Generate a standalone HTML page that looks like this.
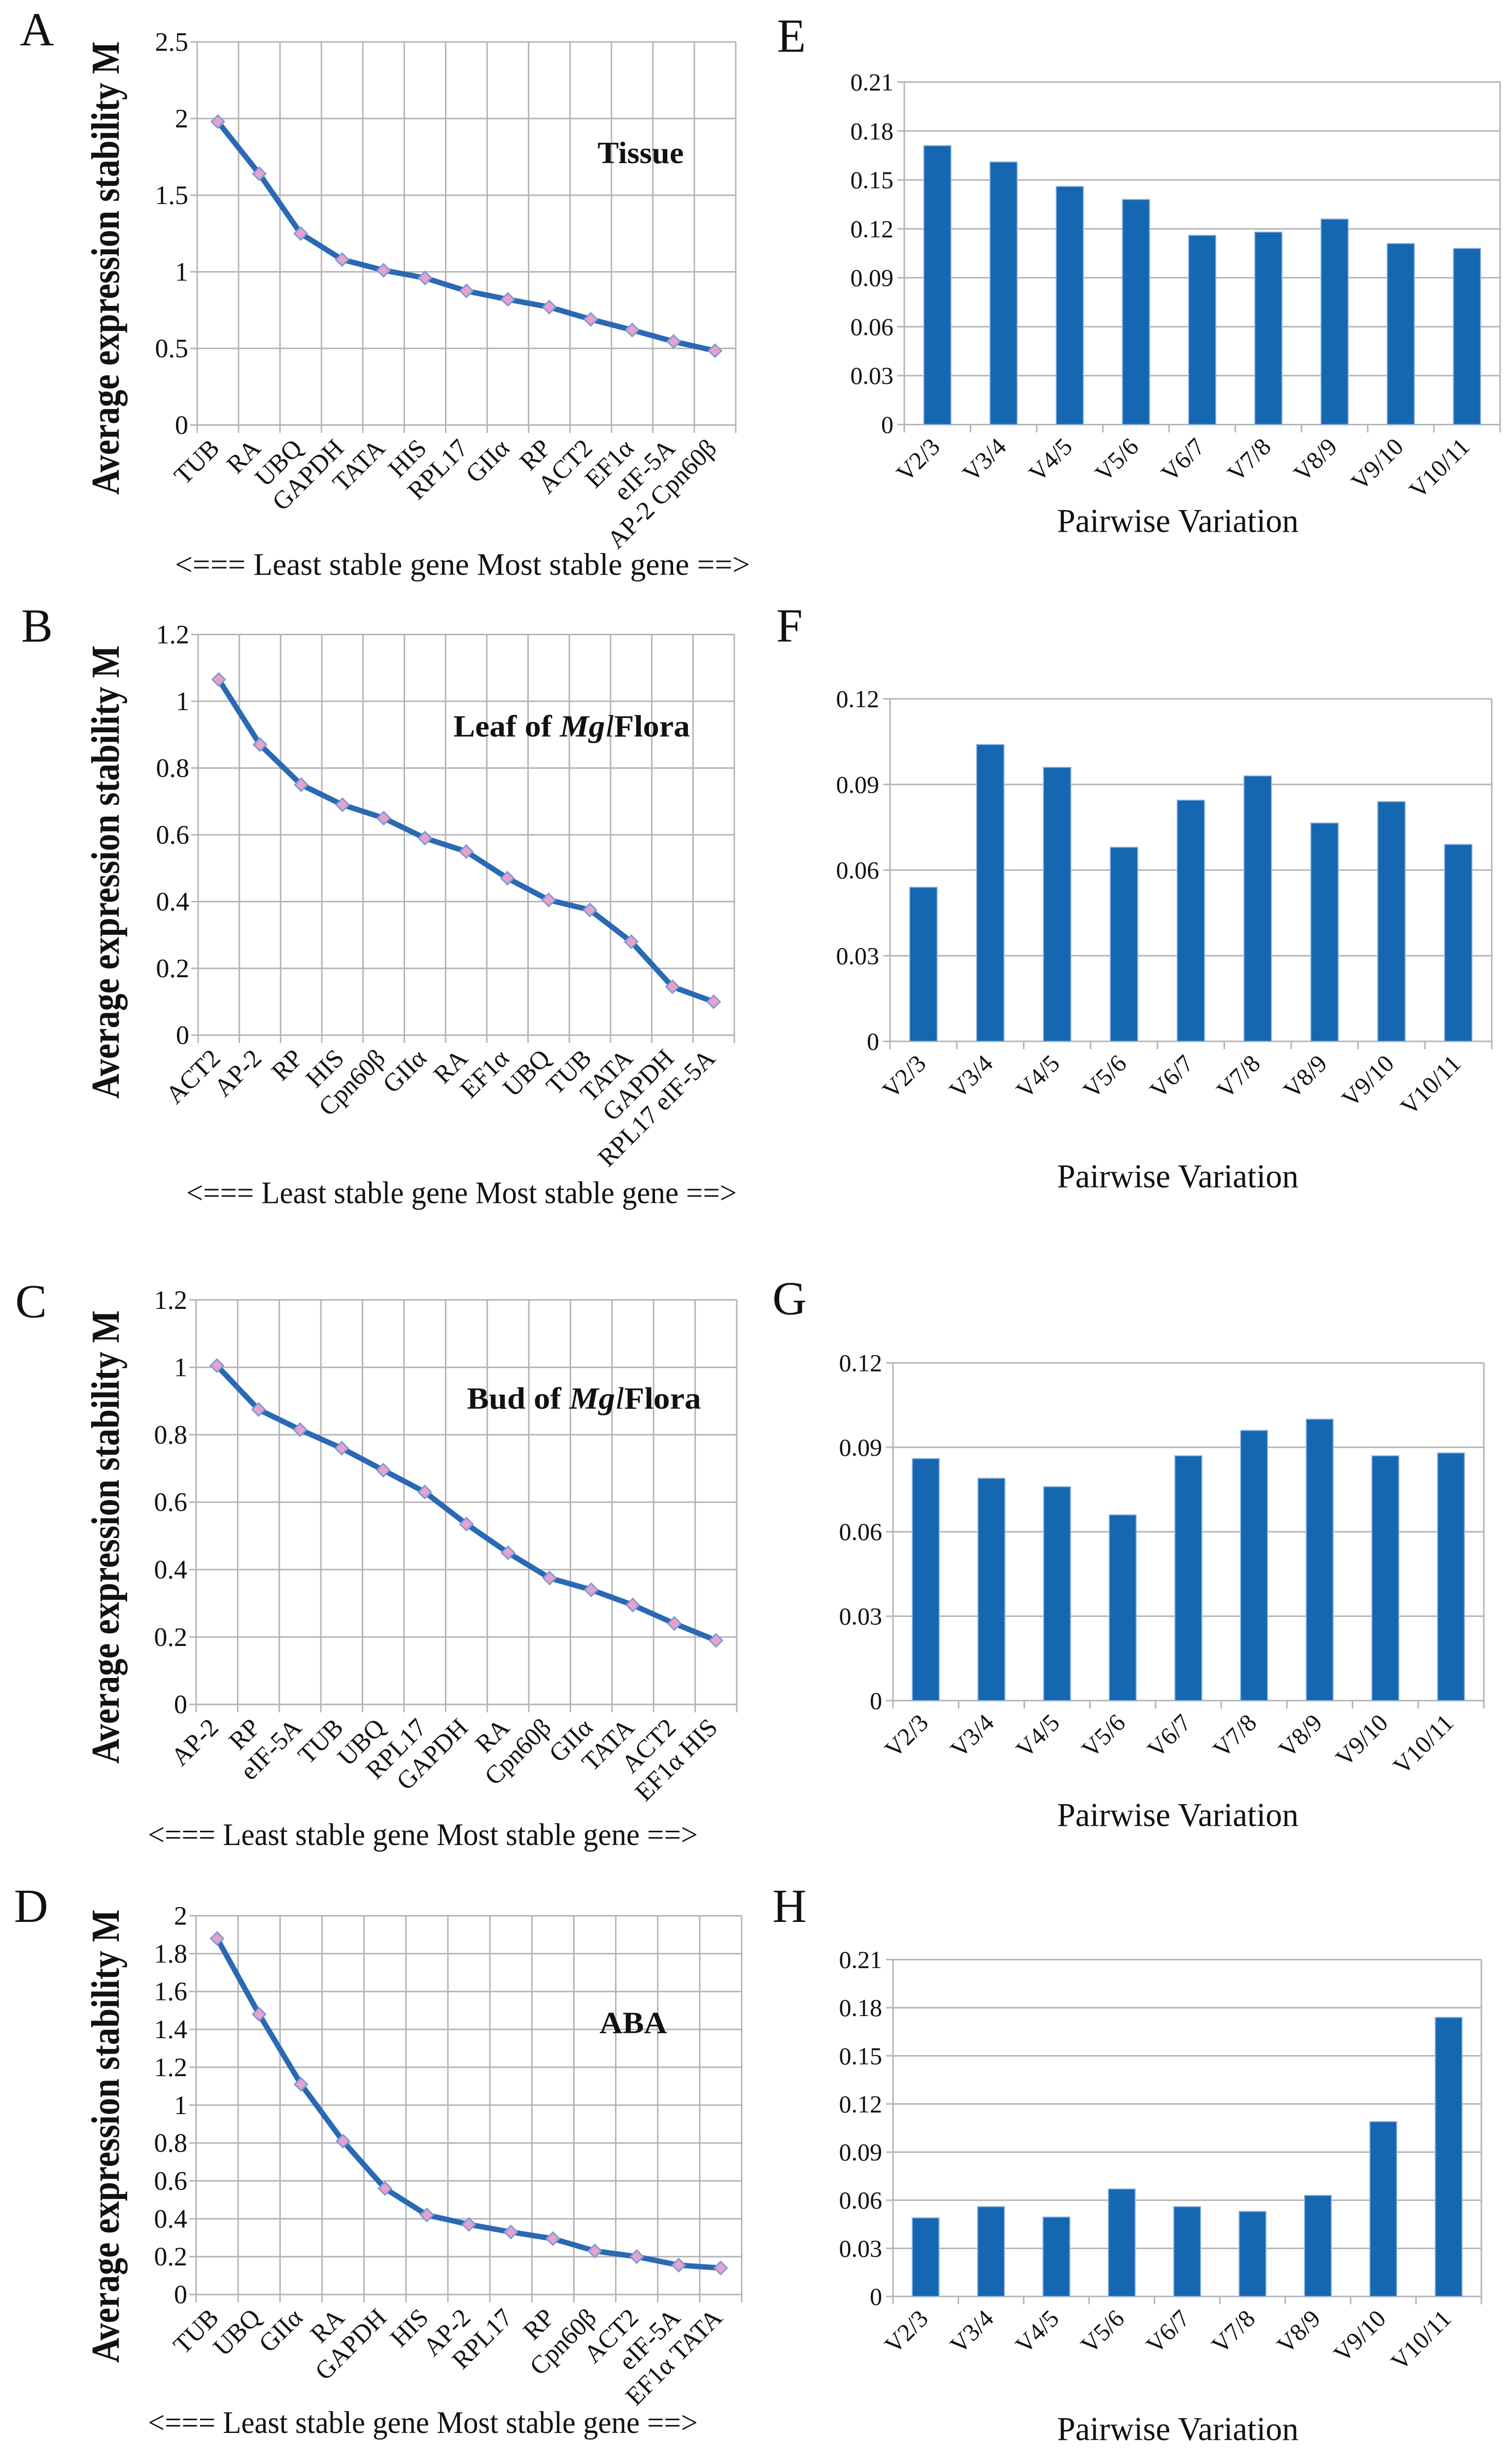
<!DOCTYPE html>
<html><head><meta charset="utf-8"><style>
html,body{margin:0;padding:0;background:#fff;overflow:hidden;}
svg{display:block;}
text{font-family:"Liberation Serif",serif;fill:#111;}
</style></head><body>
<svg id="fig" width="3056" height="5136" viewBox="0 0 3056 5136" xmlns="http://www.w3.org/2000/svg"></svg>
<script>
// ---- Line chart data (geNorm average expression stability M) ----
const catsA = ["TUB","RA","UBQ","GAPDH","TATA","HIS","RPL17","GIIα","RP","ACT2","EF1α","eIF-5A","AP-2 Cpn60β"];
const valsA = [1.98,1.64,1.25,1.08,1.01,0.96,0.875,0.82,0.77,0.69,0.62,0.545,0.485];
const ticksA = ["0","0.5","1","1.5","2","2.5"];
const catsB = ["ACT2","AP-2","RP","HIS","Cpn60β","GIIα","RA","EF1α","UBQ","TUB","TATA","GAPDH","RPL17 eIF-5A"];
const valsB = [1.065,0.87,0.75,0.69,0.65,0.59,0.55,0.47,0.405,0.375,0.28,0.145,0.10];
const ticksB = ["0","0.2","0.4","0.6","0.8","1","1.2"];
const catsC = ["AP-2","RP","eIF-5A","TUB","UBQ","RPL17","GAPDH","RA","Cpn60β","GIIα","TATA","ACT2","EF1α HIS"];
const valsC = [1.005,0.875,0.815,0.76,0.695,0.63,0.535,0.45,0.375,0.34,0.295,0.24,0.19];
const ticksC = ["0","0.2","0.4","0.6","0.8","1","1.2"];
const catsD = ["TUB","UBQ","GIIα","RA","GAPDH","HIS","AP-2","RPL17","RP","Cpn60β","ACT2","eIF-5A","EF1α TATA"];
const valsD = [1.88,1.48,1.11,0.81,0.56,0.42,0.37,0.33,0.295,0.23,0.20,0.155,0.14];
const ticksD = ["0","0.2","0.4","0.6","0.8","1","1.2","1.4","1.6","1.8","2"];
// ---- Bar chart data (pairwise variation) ----
const pairCats = ["V2/3","V3/4","V4/5","V5/6","V6/7","V7/8","V8/9","V9/10","V10/11"];
const valsE = [0.171,0.161,0.146,0.138,0.116,0.118,0.126,0.111,0.108];
const valsF = [0.054,0.104,0.096,0.068,0.0845,0.093,0.0765,0.084,0.069];
const valsG = [0.086,0.079,0.076,0.066,0.087,0.096,0.100,0.087,0.088];
const valsH = [0.049,0.056,0.0495,0.067,0.056,0.053,0.063,0.109,0.174];
const ticksE = ["0","0.03","0.06","0.09","0.12","0.15","0.18","0.21"];
const ticksF = ["0","0.03","0.06","0.09","0.12"];
const ticksG = ["0","0.03","0.06","0.09","0.12"];
const ticksH = ["0","0.03","0.06","0.09","0.12","0.15","0.18","0.21"];

const NS = "http://www.w3.org/2000/svg";
const svg = document.getElementById('fig');
const YF = 0.968;
function mk(tag, attrs, parent, txt){
  const e = document.createElementNS(NS, tag);
  for (const k in attrs) e.setAttribute(k, attrs[k]);
  if (txt !== undefined) e.textContent = txt;
  (parent || svg).appendChild(e);
  return e;
}
const GRID = "#b4b4b4";

function lineChart(id, cats, vals, ticks, box, letter, annot, annotItalic, titleCY, caption){
  box = {x0: box.x0, x1: box.x1, y0: box.y0 * YF, y1: box.y1 * YF};
  annot[1] *= YF; titleCY *= YF; caption[1] *= YF;
  const g = mk('g', {});
  
  
  const max = parseFloat(ticks[ticks.length-1]);
  const yS = v => box.y1 - (v / max) * (box.y1 - box.y0);
  const n = cats.length, bw = (box.x1 - box.x0) / n;
  const xS = i => box.x0 + bw * (i + 0.5);
  ticks.forEach(t => {
    const y = yS(parseFloat(t));
    const l = mk('line', {x1: box.x0 - 14, x2: box.x1, y1: y, y2: y, stroke: GRID, 'stroke-width': 3}, g);
    
    
    const tx = mk('text', {x: box.x0 - 18, y: y + 18, 'text-anchor': 'end', 'font-size': 54}, g, t);
    
    
  });
  for (let i = 0; i <= n; i++) {
    const x = box.x0 + bw * i;
    const l = mk('line', {x1: x, x2: x, y1: box.y0, y2: box.y1 + 16, stroke: GRID, 'stroke-width': 3}, g);
    
    
  }
  cats.forEach((c, i) => {
    const x = xS(i) + 6, y = box.y1 + 50;
    const t = mk('text', {x: x, y: y, 'text-anchor': 'end', 'font-size': 52, transform: `rotate(-45 ${x} ${y})`}, g, c);
    
    
  });
  const pts = vals.map((v, i) => xS(i) + ',' + yS(v)).join(' ');
  const pl = mk('polyline', {points: pts, fill: 'none', stroke: '#2a69b3', 'stroke-width': 11, 'stroke-linejoin': 'round'}, g);
  
  
  vals.forEach((v, i) => {
    const x = xS(i), y = yS(v), s = 13;
    const p = mk('polygon', {points: `${x},${y-s} ${x+s},${y} ${x},${y+s} ${x-s},${y}`, fill: '#e6a2cc', stroke: '#7f9ad6', 'stroke-width': 3}, g);
    
    
  });
  const L = mk('text', {x: letter[0], y: letter[1], 'font-size': 96, 'text-anchor': 'middle'}, g, letter[2]);
  
  
  const A = mk('text', {x: annot[0], y: annot[1], 'font-size': 62, 'font-weight': 'bold', 'text-anchor': 'middle', textLength: annot[3], lengthAdjust: 'spacingAndGlyphs'}, g);
  
  
  if (annotItalic) {
    mk('tspan', {}, A, annot[2]);
    mk('tspan', {'font-style': 'italic'}, A, 'Mg');
    mk('tspan', {'font-style': 'italic', 'font-weight': 'normal'}, A, 'l');
    mk('tspan', {}, A, 'Flora');
  } else { A.textContent = annot[2]; }
  const yt = mk('text', {x: 241, y: titleCY, 'font-size': 80, 'font-weight': 'bold', 'text-anchor': 'middle', transform: `rotate(-90 241 ${titleCY})`, textLength: 920, lengthAdjust: 'spacingAndGlyphs'}, g, 'Average expression  stability  M');
  
  
  const cp = mk('text', {x: caption[0], y: caption[1], 'font-size': 64, textLength: caption[2], lengthAdjust: 'spacingAndGlyphs'}, g, '<=== Least stable  gene  Most stable gene ==>');
  
  
}

function barChart(id, vals, ticks, box, letter, titleY){
  box = {x0: box.x0, x1: box.x1, y0: box.y0 * YF, y1: box.y1 * YF};
  titleY *= YF;
  const g = mk('g', {});
  
  
  const max = parseFloat(ticks[ticks.length-1]);
  const yS = v => box.y1 - (v / max) * (box.y1 - box.y0);
  const n = pairCats.length, bw = (box.x1 - box.x0) / n;
  ticks.forEach(t => {
    const y = yS(parseFloat(t));
    const l = mk('line', {x1: box.x0 - 14, x2: box.x1, y1: y, y2: y, stroke: GRID, 'stroke-width': 3}, g);
    
    
    const tx = mk('text', {x: box.x0 - 22, y: y + 17, 'text-anchor': 'end', 'font-size': 50}, g, t);
    
    
  });
  const la = mk('line', {x1: box.x0, x2: box.x0, y1: box.y0, y2: box.y1 + 16, stroke: GRID, 'stroke-width': 3}, g);
  
  
  const ra = mk('line', {x1: box.x1, x2: box.x1, y1: box.y0, y2: box.y1 + 16, stroke: GRID, 'stroke-width': 3}, g);
  
  
  for (let i = 1; i < n; i++) {
    const x = box.x0 + bw * i;
    const tk = mk('line', {x1: x, x2: x, y1: box.y1, y2: box.y1 + 16, stroke: GRID, 'stroke-width': 3}, g);
    
    
  }
  vals.forEach((v, i) => {
    const cx = box.x0 + bw * (i + 0.5), w = bw * 0.41;
    const r = mk('rect', {x: cx - w/2, y: yS(v), width: w, height: box.y1 - yS(v), fill: '#1667b1', stroke: '#8fb3e0', 'stroke-width': 2}, g);
    
    
    const x = cx + 8, y = box.y1 + 48;
    const t = mk('text', {x: x, y: y, 'text-anchor': 'end', 'font-size': 50, transform: `rotate(-45 ${x} ${y})`}, g, pairCats[i]);
    
    
  });
  const L = mk('text', {x: letter[0], y: letter[1], 'font-size': 96, 'text-anchor': 'middle'}, g, letter[2]);
  
  
  const T = mk('text', {x: 2390, y: titleY, 'font-size': 68, 'text-anchor': 'middle', textLength: 490, lengthAdjust: 'spacingAndGlyphs'}, g, 'Pairwise Variation');
  
  
}

lineChart('a', catsA, valsA, ticksA, {x0: 400, x1: 1493, y0: 88, y1: 891}, [75, 92, 'A'], [1300, 342, 'Tissue', 175], false, 562, [355, 1205, 1167]);
lineChart('b', catsB, valsB, ticksB, {x0: 402, x1: 1490, y0: 1330, y1: 2170}, [75, 1302, 'B'], [1160, 1544, 'Leaf of ', 480], true, 1828, [378, 2522, 1117]);
lineChart('c', catsC, valsC, ticksC, {x0: 398, x1: 1495, y0: 2725, y1: 3573}, [63, 2673, 'C'], [1185, 2953, 'Bud of ', 475], true, 3222, [300, 3868, 1116]);
lineChart('d', catsD, valsD, ticksD, {x0: 398, x1: 1505, y0: 4016, y1: 4810}, [63, 3900, 'D'], [1285, 4262, 'ABA', 137], false, 4478, [300, 5100, 1116]);

barChart('e', valsE, ticksE, {x0: 1835, x1: 3044, y0: 172, y1: 890}, [1606, 105, 'E'], 1115);
barChart('f', valsF, ticksF, {x0: 1806, x1: 3027, y0: 1465, y1: 2183}, [1602, 1302, 'F'], 2489);
barChart('g', valsG, ticksG, {x0: 1812, x1: 3011, y0: 2857, y1: 3565}, [1602, 2667, 'G'], 3828);
barChart('h', valsH, ticksH, {x0: 1812, x1: 3006, y0: 4108, y1: 4814}, [1602, 3900, 'H'], 5115);
</script>
</body></html>
